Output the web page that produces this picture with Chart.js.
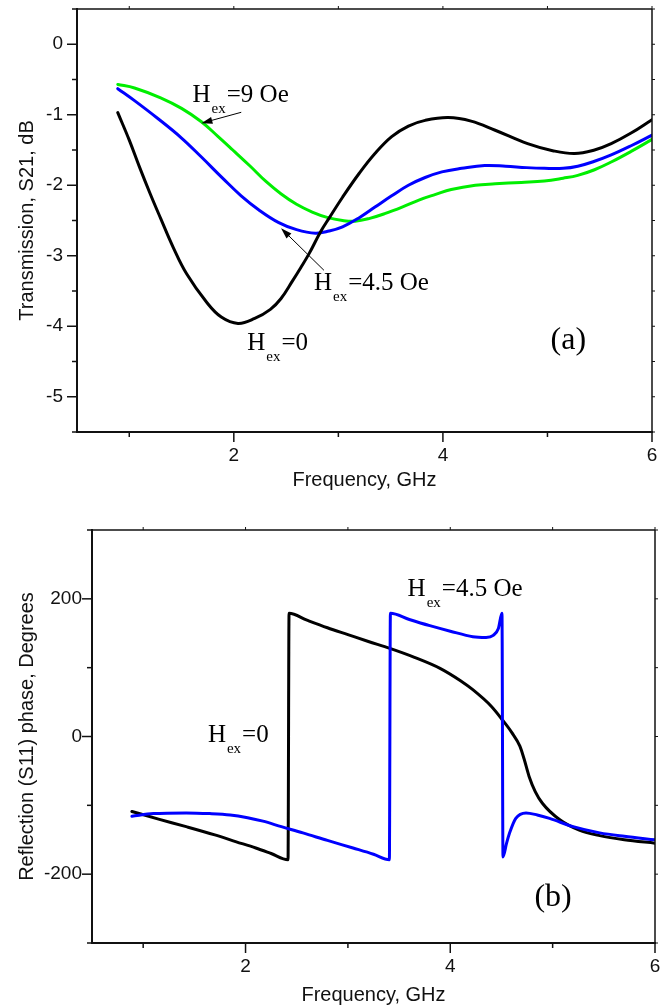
<!DOCTYPE html>
<html>
<head>
<meta charset="utf-8">
<script src="https://cdn.jsdelivr.net/npm/chart.js@4.4.1/dist/chart.umd.min.js"></script>
<style>
  body { margin: 0; background: #fff; }
  canvas { display: block; }
</style>
</head>
<body>
<canvas id="s21Chart" width="668" height="500"></canvas>
<canvas id="phaseChart" width="668" height="508"></canvas>
<script>
// ---- panel (a): transmission S21, dB ----
const freqA0  = [0.89, 1.00, 1.10, 1.20, 1.30, 1.42, 1.55, 1.74, 1.88, 2.04, 2.20, 2.35, 2.45, 2.56, 2.64, 2.72, 2.83, 2.91, 3.04, 3.20, 3.35, 3.51, 3.67, 3.83, 4.05, 4.27, 4.50, 4.81, 5.05, 5.26, 5.45, 5.61, 5.80, 6.00];
const s21H0   = [-0.97, -1.36, -1.75, -2.12, -2.47, -2.88, -3.26, -3.66, -3.87, -3.96, -3.89, -3.76, -3.61, -3.36, -3.17, -2.97, -2.66, -2.47, -2.17, -1.83, -1.55, -1.31, -1.16, -1.08, -1.04, -1.09, -1.22, -1.41, -1.51, -1.55, -1.50, -1.41, -1.26, -1.07];

const freqA45 = [0.89, 1.05, 1.27, 1.50, 1.69, 1.90, 2.07, 2.24, 2.43, 2.60, 2.78, 2.91, 3.04, 3.20, 3.35, 3.51, 3.67, 3.83, 3.99, 4.18, 4.40, 4.60, 4.80, 4.97, 5.15, 5.29, 5.45, 5.61, 5.80, 6.00];
const s21H45  = [-0.63, -0.80, -1.05, -1.33, -1.60, -1.91, -2.15, -2.35, -2.53, -2.63, -2.68, -2.65, -2.59, -2.46, -2.31, -2.15, -2.00, -1.89, -1.81, -1.76, -1.72, -1.73, -1.75, -1.76, -1.76, -1.73, -1.66, -1.57, -1.44, -1.29];

const freqA9  = [0.89, 1.05, 1.30, 1.50, 1.69, 1.85, 1.99, 2.15, 2.31, 2.45, 2.60, 2.75, 2.90, 3.04, 3.16, 3.30, 3.45, 3.61, 3.77, 3.93, 4.08, 4.31, 4.50, 4.75, 4.97, 5.15, 5.29, 5.45, 5.61, 5.80, 6.00];
const s21H9   = [-0.57, -0.62, -0.76, -0.91, -1.10, -1.31, -1.50, -1.72, -1.95, -2.12, -2.27, -2.38, -2.46, -2.50, -2.51, -2.47, -2.40, -2.31, -2.21, -2.13, -2.06, -2.00, -1.98, -1.96, -1.94, -1.90, -1.86, -1.78, -1.67, -1.52, -1.35];

const xTicks = [1, 2, 3, 4, 5, 6];
const xLabels = [2, 4, 6];
const yTicksA = [-5.5, -5, -4.5, -4, -3.5, -3, -2.5, -2, -1.5, -1, -0.5, 0, 0.5];
const yLabelsA = [-5, -4, -3, -2, -1, 0];

// ---- panel (b): reflection S11 phase, degrees ----
const freqB0  = [0.89, 1.15, 1.42, 1.70, 1.91, 2.10, 2.25, 2.415, 2.425, 2.60, 2.80, 3.00, 3.20, 3.41, 3.65, 3.90, 4.10, 4.22, 4.40, 4.51, 4.60, 4.68, 4.72, 4.77, 4.83, 4.90, 5.07, 5.26, 5.46, 5.70, 6.00];
const phaseH0 = [-109, -120, -131, -143, -153, -162, -170, -179, 179, 169, 158, 148, 138, 128, 115, 99, 81, 68, 44, 24, 6, -14, -32, -58, -80, -97, -121, -136, -144, -150, -155];

const freqB45 = [0.89, 1.10, 1.42, 1.65, 1.85, 2.02, 2.17, 2.35, 2.56, 2.80, 3.05, 3.25, 3.405, 3.415, 3.60, 3.80, 4.00, 4.22, 4.35, 4.42, 4.47, 4.505, 4.515, 4.55, 4.58, 4.64, 4.74, 4.85, 4.97, 5.20, 5.46, 5.70, 6.00];
const phaseH45 = [-116, -112, -111, -112, -114, -118, -123, -131, -140, -151, -162, -171, -179, 179, 170, 161, 153, 145, 144, 147, 157, 179, -175, -155, -140, -119, -111, -114, -119, -131, -140, -145, -150];

const yTicksB = [-300, -200, -100, 0, 100, 200, 300];
const yLabelsB = [-200, 0, 200];

const pts = (xs, ys) => xs.map((x, i) => ({x: x, y: ys[i]}));

const sansFont = '"Liberation Sans", Arial, sans-serif';
const serifFont = '"Liberation Serif", "Times New Roman", serif';

// axis frame with major / minor tick marks (drawn from the chart's own scales)
const frameTicks = {
  id: 'frameTicks',
  afterDraw(chart, args, opts) {
    const {ctx, chartArea: a, scales: {x, y}} = chart;
    ctx.save();
    ctx.strokeStyle = '#111';
    ctx.lineCap = 'butt';
    const seg = (x1, y1, x2, y2, w) => {
      ctx.lineWidth = w;
      ctx.beginPath(); ctx.moveTo(x1, y1); ctx.lineTo(x2, y2); ctx.stroke();
    };
    opts.xTicks.forEach(v => {
      const px = x.getPixelForValue(v);
      const len = opts.xLabels.includes(v) ? 10 : 5;
      seg(px, a.bottom, px, a.bottom + len, 1.5);
      seg(px, a.top, px, a.top - 3, 1);
    });
    opts.yTicks.forEach(v => {
      const py = y.getPixelForValue(v);
      const len = opts.yLabels.includes(v) ? 10 : 5;
      seg(a.left, py, a.left - len, py, 1.5);
      seg(a.right, py, a.right + 3, py, 1);
    });
    seg(a.left, a.top, a.right, a.top, 1.5);
    seg(a.right, a.top, a.right, a.bottom, 1.5);
    seg(a.left - 1, a.bottom, a.right + 1, a.bottom, 2);
    seg(a.left, a.top - 1, a.left, a.bottom + 1, 2);
    ctx.restore();
  }
};

// H_ex labels, pointer arrows and panel letter, placed in data coordinates
const notes = {
  id: 'notes',
  afterDraw(chart, args, opts) {
    const {ctx, scales: {x, y}} = chart;
    ctx.save();
    ctx.fillStyle = '#000';
    ctx.strokeStyle = '#000';
    ctx.textAlign = 'left';
    ctx.textBaseline = 'alphabetic';
    opts.labels.forEach(l => {
      const px = x.getPixelForValue(l.x), py = y.getPixelForValue(l.y);
      ctx.font = '25px ' + serifFont;
      ctx.fillText('H', px, py);
      let w = ctx.measureText('H').width + 1;
      ctx.font = '15px ' + serifFont;
      ctx.fillText('ex', px + w, py + 11);
      w += ctx.measureText('ex').width + 1;
      ctx.font = '25px ' + serifFont;
      ctx.fillText(l.text, px + w, py);
    });
    opts.arrows.forEach(ar => {
      const x1 = x.getPixelForValue(ar.from[0]), y1 = y.getPixelForValue(ar.from[1]);
      const x2 = x.getPixelForValue(ar.to[0]), y2 = y.getPixelForValue(ar.to[1]);
      const ang = Math.atan2(y2 - y1, x2 - x1);
      ctx.lineWidth = 1;
      ctx.beginPath(); ctx.moveTo(x1, y1); ctx.lineTo(x2 - 8 * Math.cos(ang), y2 - 8 * Math.sin(ang)); ctx.stroke();
      ctx.beginPath();
      ctx.moveTo(x2, y2);
      ctx.lineTo(x2 - 11 * Math.cos(ang) + 3.5 * Math.sin(ang), y2 - 11 * Math.sin(ang) - 3.5 * Math.cos(ang));
      ctx.lineTo(x2 - 11 * Math.cos(ang) - 3.5 * Math.sin(ang), y2 - 11 * Math.sin(ang) + 3.5 * Math.cos(ang));
      ctx.closePath(); ctx.fill();
    });
    const p = opts.panel;
    ctx.font = '32px ' + serifFont;
    ctx.fillText(p.text, x.getPixelForValue(p.x), y.getPixelForValue(p.y));
    ctx.restore();
  }
};

function makeChart(id, datasets, cfg) {
  return new Chart(document.getElementById(id), {
    type: 'line',
    data: { datasets: datasets },
    plugins: [frameTicks, notes],
    options: {
      responsive: false,
      animation: false,
      devicePixelRatio: 1,
      layout: { padding: cfg.padding },
      elements: {
        point: { radius: 0 },
        line: { borderWidth: 3, cubicInterpolationMode: cfg.interp, tension: 0.4, borderCapStyle: 'round', borderJoinStyle: 'round' }
      },
      plugins: {
        legend: { display: false },
        tooltip: { enabled: false },
        frameTicks: { xTicks: xTicks, xLabels: xLabels, yTicks: cfg.yTicks, yLabels: cfg.yLabels },
        notes: cfg.notes
      },
      scales: {
        x: {
          type: 'linear',
          min: 0.5,
          max: 6,
          // only the labelled ticks go to Chart.js; minor marks come from the plugin
          afterBuildTicks: s => { s.ticks = xLabels.map(v => ({value: v})); },
          afterFit: s => { s.height = cfg.xHeight; s.paddingLeft = 0; s.paddingRight = 0; },
          grid: { display: false, drawTicks: false },
          border: { display: false },
          ticks: {
            autoSkip: false, maxRotation: 0, padding: 12,
            color: '#111', font: { family: sansFont, size: 19 }
          },
          title: {
            display: true, text: 'Frequency, GHz', color: '#111',
            font: { family: sansFont, size: 20 }, padding: { top: 0, bottom: cfg.xTitlePad }
          }
        },
        y: {
          type: 'linear',
          min: cfg.yTicks[0],
          max: cfg.yTicks[cfg.yTicks.length - 1],
          afterBuildTicks: s => { s.ticks = cfg.yLabels.map(v => ({value: v})); },
          afterFit: s => { s.width = cfg.yWidth; s.paddingTop = 0; s.paddingBottom = 0; },
          grid: { display: false, drawTicks: false },
          border: { display: false },
          ticks: {
            autoSkip: false, padding: cfg.yTickPad,
            color: '#111', font: { family: sansFont, size: 19 }
          },
          title: {
            display: true, text: cfg.yTitle, color: '#111',
            font: { family: sansFont, size: 20 }, padding: { top: 15, bottom: 0 }
          }
        }
      }
    }
  });
}

makeChart('s21Chart', [
  { data: pts(freqA0, s21H0), borderColor: '#000000' },
  { data: pts(freqA45, s21H45), borderColor: '#0000ff' },
  { data: pts(freqA9, s21H9), borderColor: '#00ee00' }
], {
  padding: { top: 9, right: 16, left: 0, bottom: 0 },
  interp: 'default',
  xHeight: 68, yWidth: 77, yTickPad: 14, xTitlePad: 8,
  yTicks: yTicksA, yLabels: yLabelsA,
  yTitle: 'Transmission, S21, dB',
  notes: {
    labels: [
      { x: 1.605, y: -0.823, text: '=9 Oe' },
      { x: 2.767, y: -3.49, text: '=4.5 Oe' },
      { x: 2.129, y: -4.33, text: '=0' }
    ],
    arrows: [
      { from: [2.071, -0.965], to: [1.69, -1.12] },
      { from: [2.862, -3.206], to: [2.452, -2.61] }
    ],
    panel: { x: 5.03, y: -4.32, text: '(a)' }
  }
});

makeChart('phaseChart', [
  { data: pts(freqB45, phaseH45), borderColor: '#0000ff' },
  { data: pts(freqB0, phaseH0), borderColor: '#000000' }
], {
  padding: { top: 30, right: 13, left: 0, bottom: 0 },
  interp: 'monotone',
  xHeight: 65, yWidth: 92, yTickPad: 10, xTitlePad: 1,
  yTicks: yTicksB, yLabels: yLabelsB,
  yTitle: 'Reflection (S11) phase, Degrees',
  notes: {
    labels: [
      { x: 3.583, y: 204, text: '=4.5 Oe' },
      { x: 1.632, y: -7.5, text: '=0' }
    ],
    arrows: [],
    panel: { x: 4.822, y: -246, text: '(b)' }
  }
});
</script>
</body>
</html>
